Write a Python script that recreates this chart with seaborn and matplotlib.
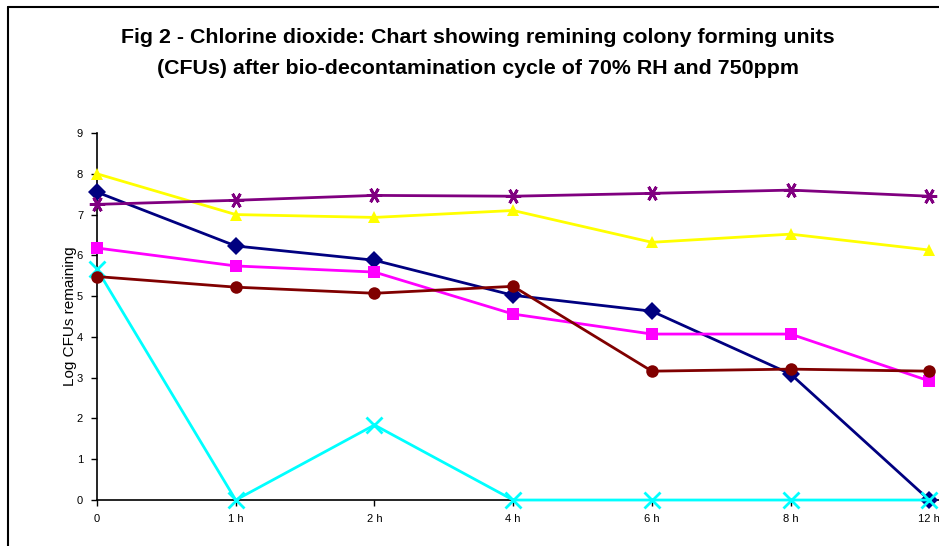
import pandas as pd
import matplotlib
matplotlib.use("Agg")
import matplotlib.pyplot as plt
import seaborn as sns
from matplotlib.lines import Line2D

# time points and series values (log CFUs remaining)
times = ['0', '1 h', '2 h', '4 h', '6 h', '8 h', '12 h']
s1 = [7.55, 6.23, 5.88, 5.02, 4.63, 3.09, 0.0]
s2 = [6.18, 5.74, 5.59, 4.56, 4.07, 4.07, 2.92]
s3 = [8.0, 7.0, 6.93, 7.1, 6.32, 6.52, 6.13]
s4 = [5.66, 0.0, 1.84, 0.0, 0.0, 0.0, 0.0]
s5 = [7.25, 7.35, 7.47, 7.45, 7.52, 7.6, 7.45]
s6 = [5.48, 5.22, 5.07, 5.24, 3.16, 3.21, 3.16]

series_names = ['S1', 'S2', 'S3', 'S4', 'S5', 'S6']
series_vals = [s1, s2, s3, s4, s5, s6]
colors = ['#000080', '#FF00FF', '#FFFF00', '#00FFFF', '#800080', '#800000']
markers = ['D', 's', '^', 'x', (6, 2, 90), 'o']

rows = []
for name, vals in zip(series_names, series_vals):
    for i, v in enumerate(vals):
        rows.append({'series': name, 't': i, 'val': v})
df = pd.DataFrame(rows)

sns.set_style("white")
plt.rcParams['font.family'] = ['Liberation Sans', 'DejaVu Sans']

fig = plt.figure(figsize=(9.39, 5.46), dpi=100)
ax = fig.add_axes([0.1033, 0.0842, 0.8967, 0.6722])

for name, c, m in zip(series_names, colors, markers):
    d = df[df['series'] == name]
    line_marker = m in ('x', (6, 2, 90))
    sns.lineplot(data=d, x='t', y='val', ax=ax, color=c, marker=m,
                 markersize=11 if line_marker else 9,
                 markeredgewidth=2.0 if line_marker else 0,
                 markeredgecolor=c, linewidth=2.0, legend=False)

for ln in ax.lines:
    ln.set_clip_on(False)

ax.set_xlim(0, 6.07)
ax.set_ylim(0, 9)
ax.set_xticks(range(len(times)))
ax.set_xticklabels(times)
ax.set_yticks(range(10))
ax.tick_params(axis='both', labelsize=8, length=4, width=1, direction='out',
               color='black', labelcolor='black', pad=6, left=True, bottom=True)
ax.set_xlabel('')
ax.set_ylabel('Log CFUs remaining', fontsize=11, labelpad=0, color='black')
for sp in ['top', 'right']:
    ax.spines[sp].set_visible(False)
for sp in ['left', 'bottom']:
    ax.spines[sp].set_color('black')
    ax.spines[sp].set_linewidth(1.2)
    ax.spines[sp].set_zorder(0.5)

fig.text(0.509, 1 - 53 / 546,
         'Fig 2 - Chlorine dioxide: Chart showing remining colony forming units\n'
         '(CFUs) after bio-decontamination cycle of 70% RH and 750ppm',
         ha='center', va='center', fontsize=15.4, fontweight='bold',
         multialignment='center', linespacing=1.85, color='black')

# figure border (left and top edges visible)
fig.add_artist(Line2D([8 / 939, 8 / 939], [0, 1 - 7 / 546], color='black',
                      linewidth=1.5, transform=fig.transFigure))
fig.add_artist(Line2D([8 / 939, 1], [1 - 7 / 546, 1 - 7 / 546], color='black',
                      linewidth=1.5, transform=fig.transFigure))

fig.savefig('out.png', dpi=100)
